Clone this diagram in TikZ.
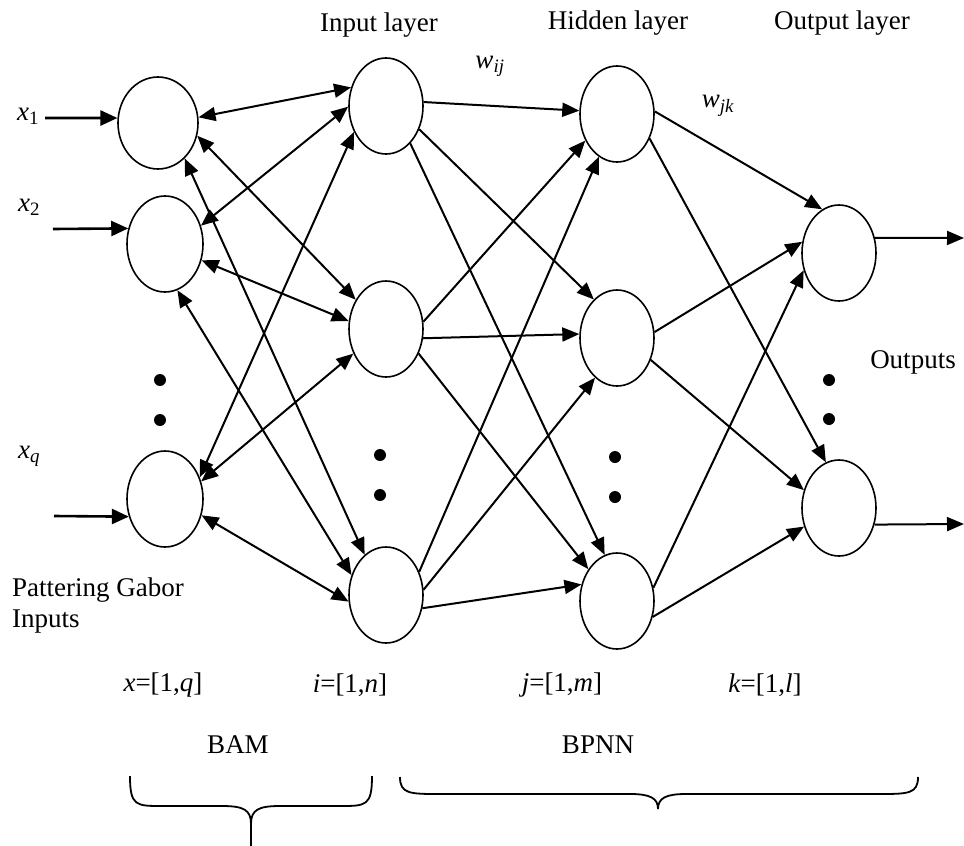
\documentclass[tikz,border=0pt]{standalone}
\usepackage{fontspec}
\setmainfont{Liberation Serif}
\usetikzlibrary{shapes.geometric,arrows.meta}
\begin{document}
\begin{tikzpicture}[x=1pt,y=-1pt,
  neuron/.style={ellipse,draw,line width=1.6pt,minimum width=74pt,minimum height=96pt,inner sep=0pt},
  arr/.style={line width=2pt,-{Triangle[length=17pt,width=14pt]}},
  darr/.style={line width=2pt,{Triangle[length=17pt,width=14pt]}-{Triangle[length=17pt,width=14pt]}},
  inarr/.style={line width=2.6pt,-{Triangle[length=17pt,width=15pt]}},
  lbl/.style={font=\fontsize{27}{32}\selectfont,inner sep=0pt},
  dotn/.style={circle,fill,inner sep=0pt,minimum size=12pt},
  brace/.style={line width=1.8pt}
]
\useasboundingbox (0,0) rectangle (964,846);

% neurons
\node[neuron,minimum width=80pt,minimum height=92pt] (A1) at (158,123) {};
\node[neuron,minimum width=76pt] (A2) at (165,244) {};
\node[neuron,minimum width=76pt] (A3) at (165,499) {};
\node[neuron] (B1) at (386,106) {};
\node[neuron] (B2) at (386,329) {};
\node[neuron] (B3) at (386,595) {};
\node[neuron] (C1) at (617,114) {};
\node[neuron] (C2) at (617,338) {};
\node[neuron] (C3) at (617,601) {};
\node[neuron] (D1) at (839,253) {};
\node[neuron] (D2) at (839,508) {};

% dots
\node[dotn] (dA1) at (160,380) {};
\node[dotn] (dA2) at (160,420) {};
\node[dotn] (dB1) at (380,455) {};
\node[dotn] (dB2) at (380,495) {};
\node[dotn] (dC1) at (615,457) {};
\node[dotn] (dC2) at (615,497) {};
\node[dotn] (dD1) at (829,380) {};
\node[dotn] (dD2) at (829,419) {};

% BAM connections
\draw[darr] (A1.8) -- (B1.152);
\draw[darr] (A2.27) -- (B1.181);
\draw[darr] (A3.32) -- (B1.219);
\draw[darr] (A1.-18) -- (B2.136);
\draw[darr] (A2.-24) -- (B2.168);
\draw[darr] (A3.26) -- (B2.217);
\draw[darr] (A1.-53) -- (B3.118);
\draw[darr] (A2.-75) -- (B3.150);
\draw[darr] (A3.-24) -- (B3.190);

% input -> hidden
\draw[arr] (B1.6) -- (C1.175);
\draw[arr] (B1.-35) -- (C2.121);
\draw[arr] (B1.-57) -- (C3.105);
\draw[arr] (B2.11) -- (C1.220);
\draw[arr] (B2.-14) -- (C2.174);
\draw[arr] (B2.-37) -- (C3.132);
\draw[arr] (B3.35) -- (C1.247);
\draw[arr] (B3.8) -- (C2.241);
\draw[arr] (B3.-20) -- (C3.155);

% hidden -> output
\draw[arr] (C1.4) -- (D1.111);
\draw[arr] (C1.-37) -- (D2.106);
\draw[arr] (C2.9) -- (D1.163);
\draw[arr] (C2.-33) -- (D2.153);
\draw[arr] (C3.20) -- (D1.206);
\draw[arr] (C3.-24) -- (D2.208);

% inputs and outputs
\coordinate (i1) at (45,118);
\coordinate (i2) at (53,229);
\coordinate (iq) at (54,516);
\draw[inarr] (i1) -- (A1.173);
\draw[inarr] (i2) -- (A2.157);
\draw[inarr] (iq) -- (A3.206);
\coordinate (o1) at (964,238);
\coordinate (o2) at (964,524);
\draw[arr] (D1.23) -- (o1);
\draw[arr] (D2.-25) -- (o2);

% labels
\node[lbl] (lx1) at (28,116) {\itshape x\textsubscript{\upshape 1}};
\node[lbl] (lx2) at (29,207) {\itshape x\textsubscript{\upshape 2}};
\node[lbl] (lxq) at (29,456) {\itshape x\textsubscript{q}};
\node[lbl,anchor=west] (lpg) at (12,590) {Pattering Gabor};
\node[lbl,anchor=west] (lpi) at (12,622) {Inputs};
\node[lbl] (lin) at (379,25) {Input layer};
\node[lbl] (lhid) at (618,23) {Hidden layer};
\node[lbl] (lout) at (842,23) {Output layer};
\node[lbl] (lwij) at (490,66) {\itshape w\textsubscript{ij}};
\node[lbl] (lwjk) at (718,106) {\itshape w\textsubscript{jk}};
\node[lbl] (louts) at (913,362) {Outputs};
\node[lbl] (rx) at (163,685) {\textit{x}=[1,\textit{q}]};
\node[lbl] (ri) at (350,685) {\textit{i}=[1,\textit{n}]};
\node[lbl] (rj) at (562,685) {\textit{j}=[1,\textit{m}]};
\node[lbl] (rk) at (765,685) {\textit{k}=[1,\textit{l}]};
\node[lbl] (lbam) at (238,745) {BAM};
\node[lbl] (lbpnn) at (598,745) {BPNN};

% braces
\draw[brace] (130,776) .. controls (130,806) and (136,806) .. (162,806) -- (222,806)
  .. controls (244,806) and (251,810) .. (251,824) -- (251,846);
\draw[brace] (372,776) .. controls (372,806) and (366,806) .. (340,806) -- (280,806)
  .. controls (258,806) and (251,810) .. (251,824);
\draw[brace] (400,777) .. controls (400,794) and (410,794) .. (440,794) -- (630,794)
  .. controls (650,794) and (658,798) .. (658,809);
\draw[brace] (918,777) .. controls (918,794) and (908,794) .. (878,794) -- (686,794)
  .. controls (666,794) and (658,798) .. (658,809);
\end{tikzpicture}
\end{document}
